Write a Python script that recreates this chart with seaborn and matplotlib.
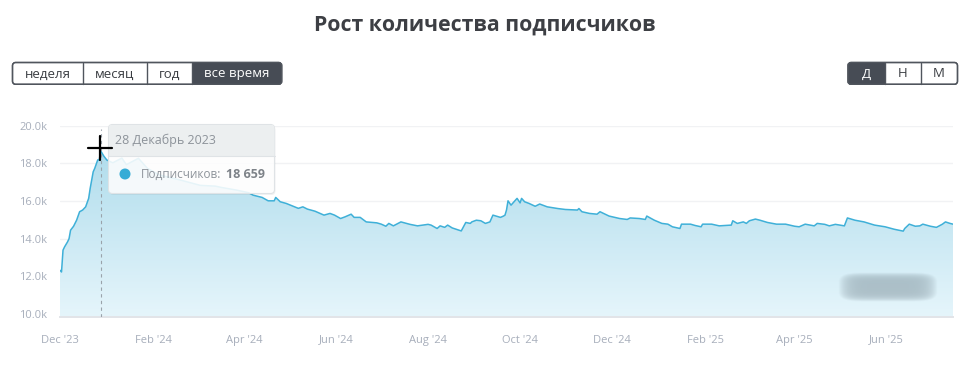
import numpy as np
import pandas as pd
import matplotlib
matplotlib.use("Agg")
import matplotlib.pyplot as plt
import matplotlib.dates as mdates
from matplotlib.patches import FancyBboxPatch, Rectangle, Circle
import seaborn as sns

# ---- data ----
dates = [
    "2023-12-01", "2023-12-02", "2023-12-03", "2023-12-04", "2023-12-06", "2023-12-07",
    "2023-12-08", "2023-12-10", "2023-12-12", "2023-12-14", "2023-12-16", "2023-12-18",
    "2023-12-20", "2023-12-21", "2023-12-22", "2023-12-23", "2023-12-24", "2023-12-26",
    "2023-12-27", "2023-12-28", "2023-12-30", "2024-01-01", "2024-01-05", "2024-01-11",
    "2024-01-14", "2024-01-22", "2024-01-28", "2024-02-05", "2024-02-18", "2024-03-03",
    "2024-03-13", "2024-03-17", "2024-03-27", "2024-04-04", "2024-04-07", "2024-04-13",
    "2024-04-17", "2024-04-21", "2024-04-22", "2024-04-25", "2024-04-29", "2024-05-07",
    "2024-05-10", "2024-05-13", "2024-05-18", "2024-05-24", "2024-05-28", "2024-05-31",
    "2024-06-04", "2024-06-07", "2024-06-11", "2024-06-13", "2024-06-17", "2024-06-21",
    "2024-06-28", "2024-07-01", "2024-07-04", "2024-07-06", "2024-07-09", "2024-07-14",
    "2024-07-20", "2024-07-25", "2024-08-01", "2024-08-03", "2024-08-07", "2024-08-09",
    "2024-08-12", "2024-08-14", "2024-08-17", "2024-08-23", "2024-08-26", "2024-08-29",
    "2024-08-30", "2024-09-02", "2024-09-05", "2024-09-08", "2024-09-11", "2024-09-13",
    "2024-09-18", "2024-09-20", "2024-09-21", "2024-09-22", "2024-09-23", "2024-09-25",
    "2024-09-27", "2024-09-29", "2024-10-01", "2024-10-02", "2024-10-04", "2024-10-07",
    "2024-10-11", "2024-10-14", "2024-10-19", "2024-10-26", "2024-10-31", "2024-11-08",
    "2024-11-09", "2024-11-11", "2024-11-16", "2024-11-21", "2024-11-23", "2024-11-29",
    "2024-12-06", "2024-12-11", "2024-12-13", "2024-12-19", "2024-12-23", "2024-12-24",
    "2024-12-29", "2025-01-03", "2025-01-07", "2025-01-10", "2025-01-15", "2025-01-16",
    "2025-01-22", "2025-01-25", "2025-01-29", "2025-01-30", "2025-02-05", "2025-02-10",
    "2025-02-18", "2025-02-19", "2025-02-22", "2025-02-26", "2025-02-28", "2025-03-02",
    "2025-03-06", "2025-03-09", "2025-03-14", "2025-03-20", "2025-03-26", "2025-04-01",
    "2025-04-04", "2025-04-08", "2025-04-14", "2025-04-16", "2025-04-21", "2025-04-24",
    "2025-04-28", "2025-05-04", "2025-05-06", "2025-05-11", "2025-05-17", "2025-05-24",
    "2025-05-31", "2025-06-06", "2025-06-12", "2025-06-13", "2025-06-16", "2025-06-20",
    "2025-06-23", "2025-06-25", "2025-06-30", "2025-07-04", "2025-07-08", "2025-07-10",
    "2025-07-13", "2025-07-15",
]
subscribers = [
    12320, 12230, 13390, 13560, 13830, 14000,
    14450, 14660, 14980, 15430, 15520, 15690,
    16140, 16670, 17110, 17550, 17730, 18180,
    18180, 18659, 18390, 18180, 18030, 18280,
    17930, 18270, 17730, 17380, 17130, 16830,
    16790, 16720, 16580, 16440, 16310, 16190,
    16010, 16010, 16190, 15960, 15870, 15610,
    15690, 15570, 15460, 15250, 15340, 15250,
    15070, 15160, 15300, 15130, 15130, 14890,
    14840, 14770, 14660, 14810, 14680, 14890,
    14760, 14680, 14760, 14720, 14540, 14680,
    14600, 14720, 14570, 14410, 14860, 14810,
    14890, 14980, 14950, 14810, 14890, 15250,
    15130, 15200, 15250, 15520, 16010, 15780,
    15960, 16140, 15900, 16140, 15960, 15870,
    15720, 15840, 15690, 15600, 15550, 15520,
    15600, 15430, 15340, 15300, 15430, 15200,
    15070, 15020, 15100, 15070, 15020, 15200,
    14980, 14810, 14770, 14630, 14540, 14770,
    14770, 14700, 14630, 14770, 14770, 14680,
    14720, 14950, 14810, 14890, 14810, 14950,
    15040, 14980, 14860, 14770, 14770, 14660,
    14630, 14770, 14680, 14810, 14760, 14680,
    14760, 14680, 15100, 14980, 14890, 14720,
    14630, 14500, 14400, 14540, 14770, 14660,
    14680, 14770, 14660, 14600, 14770, 14890,
    14810, 14770,
]
y_ticks = [10000, 12000, 14000, 16000, 18000, 20000]
y_tick_labels = ["10.0k", "12.0k", "14.0k", "16.0k", "18.0k", "20.0k"]
title = "Рост количества подписчиков"
range_buttons = ["неделя", "месяц", "год", "все время"]
period_buttons = ["Д", "Н", "М"]
tooltip_date = "28 Декабрь 2023"
tooltip_label = "Подписчиков:"
tooltip_value = "18 659"
hover_date = "2023-12-28"

# ---- style ----
sns.set_theme(style="white")
plt.rcParams["font.family"] = ["Open Sans", "DejaVu Sans"]

W, H = 976, 369
fig = plt.figure(figsize=(W / 100, H / 100), dpi=100)
fig.patch.set_facecolor("white")

top_px, bot_px = 125.7, 316.5
ax = fig.add_axes([60 / W, 1 - bot_px / H, (953 - 60) / W, (bot_px - top_px) / H])
df = pd.DataFrame({"date": pd.to_datetime(dates), "subs": subscribers})

y_lo, y_hi = 9865, 20000
x_lo, x_hi = pd.Timestamp("2023-12-01"), pd.Timestamp("2025-07-15")
ax.set_xlim(x_lo, x_hi)
ax.set_ylim(y_lo, y_hi)

# gridlines
for yt in y_ticks:
    ax.axhline(yt, color="#f1f2f4", lw=1, zorder=0)

# gradient area fill
line_color = "#3fb0d8"
poly = ax.fill_between(df["date"], df["subs"], y_lo, color="none", lw=0)
top_c = np.array([168, 217, 234]) / 255
bot_c = np.array([229, 245, 251]) / 255
t = np.linspace(0, 1, 256).reshape(-1, 1)
grad = np.zeros((256, 1, 4))
grad[..., :3] = (top_c * (1 - t) + bot_c * t)[:, None, :].reshape(256, 1, 3)
grad[..., 3] = 1
xn0, xn1 = mdates.date2num(x_lo), mdates.date2num(x_hi)
im = ax.imshow(grad, extent=[xn0, xn1, y_lo, y_hi], aspect="auto", origin="upper", zorder=1)
im.set_clip_path(poly.get_paths()[0], transform=ax.transData)
ax.set_xlim(x_lo, x_hi)
ax.set_ylim(y_lo, y_hi)

sns.lineplot(data=df, x="date", y="subs", ax=ax, color=line_color, lw=1.1, zorder=3)

# hover dashed line
hx = pd.Timestamp(hover_date)
ax.plot([hx, hx], [y_lo, 19850], color="#9aa3ab", lw=0.8, ls=(0, (3, 3)), zorder=4)

# axes styling
for s in ["top", "right", "left"]:
    ax.spines[s].set_visible(False)
ax.spines["bottom"].set_color("#e2e4e8")
ax.spines["bottom"].set_linewidth(1.4)
ax.set_yticks(y_ticks)
ax.set_yticklabels(y_tick_labels)
ax.xaxis.set_major_locator(mdates.MonthLocator(bymonth=[12, 2, 4, 6, 8, 10]))
ax.xaxis.set_major_formatter(mdates.DateFormatter("%b '%y"))
ax.tick_params(axis="x", colors="#a7aebb", labelsize=8, length=5, width=1, direction="out",
               pad=8, color="#dcdfe4")
ax.tick_params(axis="y", colors="#a7aebb", labelsize=8, length=0, pad=9)
for lab in ax.get_xticklabels():
    lab.set_color("#a7aebb")
ax.set_xlabel("")
ax.set_ylabel("")
ax.grid(False)

# ---- overlay (pixel coords) ----
ov = fig.add_axes([0, 0, 1, 1], zorder=10)
ov.set_xlim(0, W)
ov.set_ylim(H, 0)
ov.axis("off")
ov.patch.set_visible(False)

ov.text(485, 25, title, ha="center", va="center", fontsize=15.3, fontweight="bold", color="#3d3f44")

def button_group(x_edges, y0, y1, labels, active_idx):
    outer = FancyBboxPatch((x_edges[0], y0), x_edges[-1] - x_edges[0], y1 - y0,
                           boxstyle="round,pad=0,rounding_size=3", fc="white",
                           ec="#50555d", lw=1.0, zorder=1)
    ov.add_patch(outer)
    for i, lab in enumerate(labels):
        xa, xb = x_edges[i], x_edges[i + 1]
        if i == active_idx:
            r = Rectangle((xa, y0), xb - xa, y1 - y0, fc="#474c55", ec="none", zorder=2)
            ov.add_patch(r)
            r.set_clip_path(outer)
            col = "white"
        else:
            col = "#3a3d42"
        if 0 < i:
            ov.plot([xa, xa], [y0, y1], color="#50555d", lw=1.0, zorder=3)
        ov.text((xa + xb) / 2, (y0 + y1) / 2 + 0.5, lab, ha="center", va="center",
                fontsize=9.5, color=col, zorder=4)
    edge = FancyBboxPatch((x_edges[0], y0), x_edges[-1] - x_edges[0], y1 - y0,
                          boxstyle="round,pad=0,rounding_size=3", fc="none",
                          ec="#50555d", lw=1.0, zorder=5)
    ov.add_patch(edge)

button_group([12.5, 82.5, 146.5, 192.3, 281.7], 62.5, 84.3, range_buttons, 3)
button_group([848, 884.5, 920.5, 957.5], 62.5, 84.3, period_buttons, 0)

# tooltip
tx0, ty0, tw, th = 108.5, 124.5, 166, 69
shadow = FancyBboxPatch((tx0 + 1, ty0 + 1.5), tw, th, boxstyle="round,pad=0,rounding_size=4",
                        fc="#000000", alpha=0.05, ec="none", zorder=5)
ov.add_patch(shadow)
tip = FancyBboxPatch((tx0, ty0), tw, th, boxstyle="round,pad=0,rounding_size=4",
                     fc=(1, 1, 1, 0.88), ec="#dfe3e6", lw=0.8, zorder=6)
ov.add_patch(tip)
hdr = Rectangle((tx0, ty0), tw, 31, fc="#eceff0", ec="none", zorder=7)
ov.add_patch(hdr)
hdr.set_clip_path(tip)
ov.plot([tx0, tx0 + tw], [ty0 + 31, ty0 + 31], color="#dfe3e6", lw=0.8, zorder=8)
ov.text(115, 140.5, tooltip_date, ha="left", va="center", fontsize=9, color="#8d939a", zorder=9)
ov.add_patch(Circle((125, 174), 5.5, fc="#36acd6", ec="none", zorder=9))
ov.text(141, 174.5, tooltip_label, ha="left", va="center", fontsize=8.5, color="#8d939a", zorder=9)
ov.text(226, 174.5, tooltip_value, ha="left", va="center", fontsize=9, fontweight="bold",
        color="#7d8288", zorder=9)

# cursor crosshair
ov.plot([88, 112], [148, 148], color="black", lw=1.6, zorder=12)
ov.plot([100, 100], [136, 160], color="black", lw=1.6, zorder=12)

# blurred watermark
gx = np.linspace(-1, 1, 120)
gy = np.linspace(-1, 1, 40)
GX, GY = np.meshgrid(gx, gy)
blob = np.clip(1 - (np.abs(GX) ** 6 + np.abs(GY) ** 4), 0, 1)
wm = np.zeros((40, 120, 4))
wm[..., 0] = 0.45
wm[..., 1] = 0.52
wm[..., 2] = 0.56
wm[..., 3] = blob * 0.45
ov.imshow(wm, extent=[838, 938, 302, 272], aspect="auto", zorder=4, interpolation="bilinear")
ov.set_xlim(0, W)
ov.set_ylim(H, 0)

fig.savefig("out.png", dpi=100, facecolor="white")
